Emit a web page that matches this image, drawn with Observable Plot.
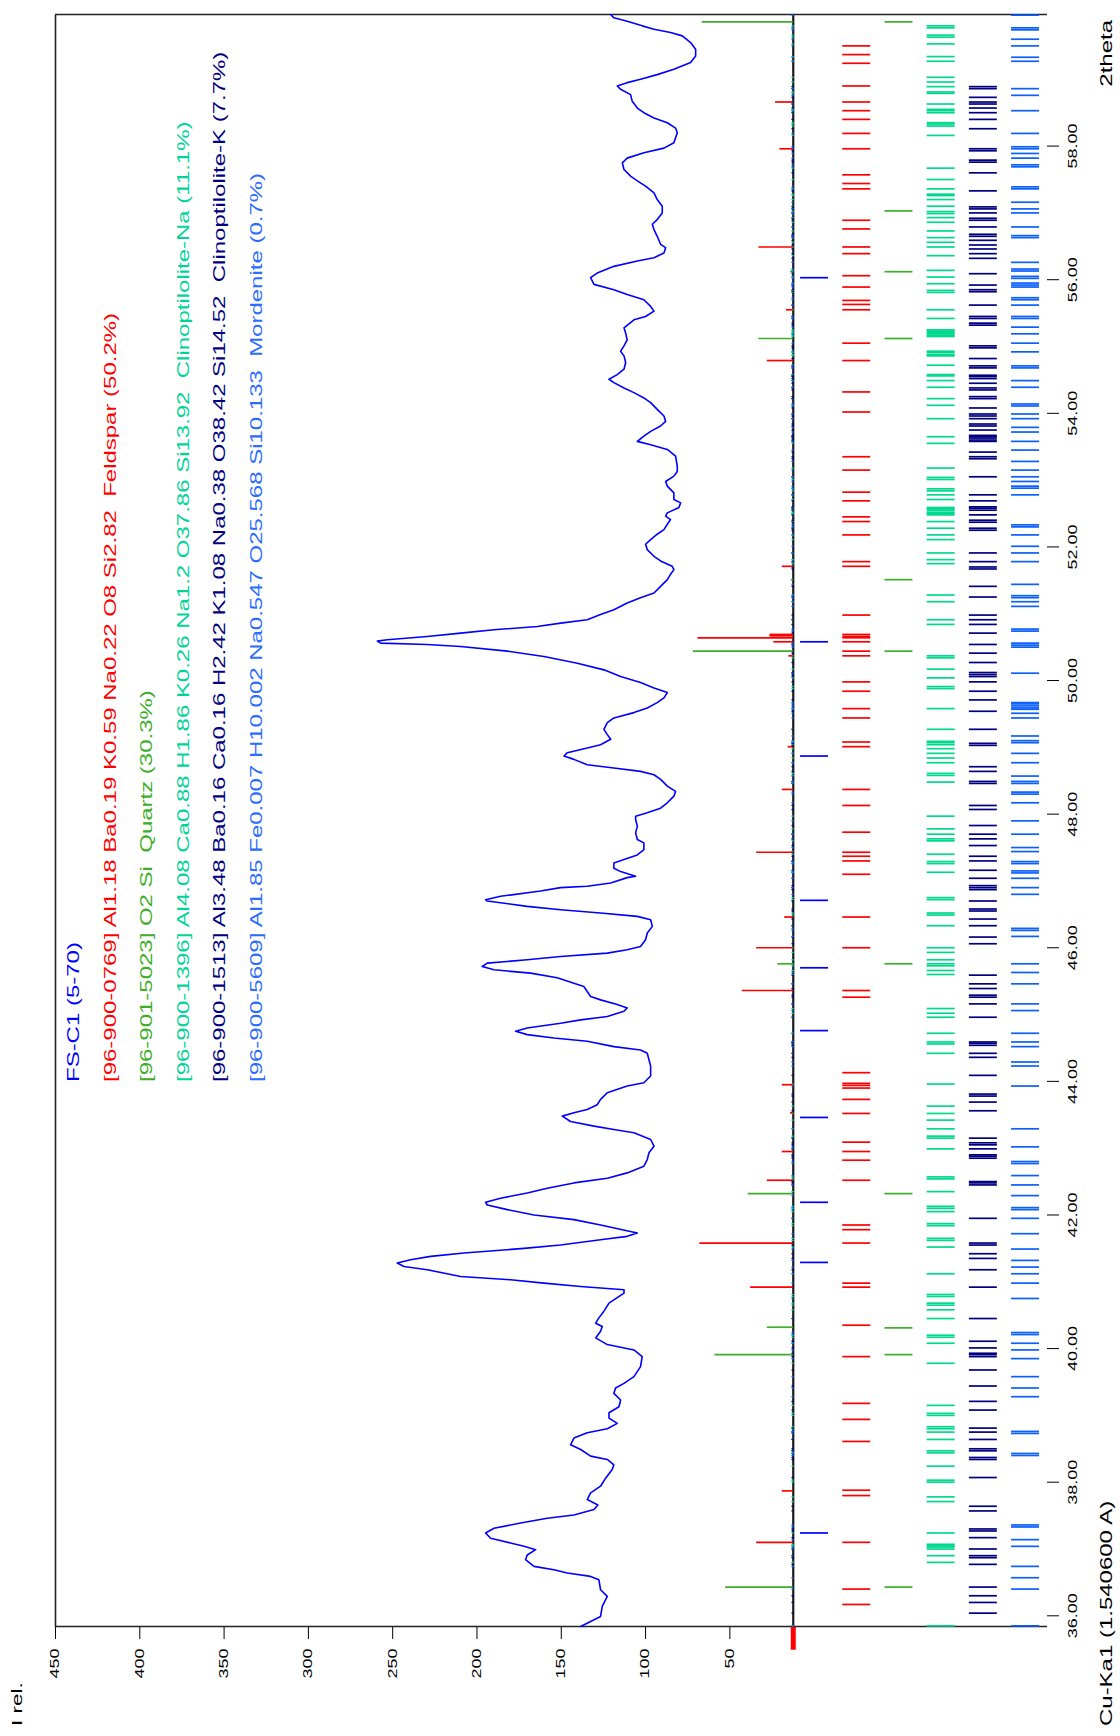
<!DOCTYPE html>
<html><head><meta charset="utf-8">
<script src="https://cdn.jsdelivr.net/npm/d3@7"></script>
<script src="https://cdn.jsdelivr.net/npm/@observablehq/plot@0.6"></script>
<style>
html,body{margin:0;padding:0;background:#fff;overflow:hidden;width:1120px;height:1736px;}
#wrap{position:absolute;left:0;top:0;width:1736px;height:1120px;transform-origin:0 0;transform:translate(0px,1736px) rotate(-90deg);}
svg text{white-space:pre;}
</style></head><body><div id="wrap"></div>
<script>
// ---------- DATA ----------
const patternTheta = [35.84,35.99,36.14,36.29,36.39,36.54,36.59,36.64,36.69,36.74,36.84,36.91,36.99,37.04,37.09,37.16,37.24,37.31,37.39,37.46,37.51,37.59,37.66,37.74,37.84,37.94,38.06,38.19,38.26,38.34,38.39,38.49,38.56,38.66,38.74,38.80,38.88,38.96,39.04,39.13,39.23,39.33,39.41,39.48,39.58,39.73,39.88,39.98,40.06,40.16,40.26,40.33,40.38,40.46,40.56,40.68,40.83,40.88,40.93,40.98,41.03,41.08,41.18,41.23,41.28,41.33,41.38,41.43,41.50,41.55,41.63,41.68,41.73,41.78,
41.85,41.93,42.00,42.08,42.15,42.19,42.25,42.33,42.40,42.48,42.55,42.63,42.73,42.83,42.93,43.03,43.13,43.23,43.28,43.33,43.40,43.48,43.53,43.58,43.65,43.73,43.83,43.93,43.98,44.08,44.23,44.42,44.47,44.52,44.60,44.65,44.70,44.75,44.80,44.87,44.92,44.97,45.05,45.10,45.15,45.22,45.27,45.42,45.47,45.55,45.62,45.67,45.72,45.77,45.82,45.87,45.92,45.97,46.02,46.12,46.22,46.32,46.42,46.47,46.52,46.57,46.62,46.70,46.72,46.77,46.85,46.90,46.92,46.97,47.05,47.07,47.14,47.19,47.27,47.32,47.39,47.47,47.57,47.62,47.72,47.82,47.92,
47.97,48.02,48.09,48.17,48.27,48.34,48.42,48.52,48.59,48.64,48.69,48.74,48.82,48.87,48.92,48.99,49.04,49.12,49.19,49.27,49.37,49.44,49.52,49.59,49.67,49.74,49.82,49.89,49.97,50.06,50.16,50.26,50.36,50.44,50.51,50.54,50.56,50.59,50.61,50.66,50.71,50.76,50.81,50.86,50.91,50.99,51.06,51.16,51.24,51.31,51.41,51.51,51.59,51.66,51.71,51.79,51.86,51.96,52.04,52.11,52.19,52.26,52.34,52.41,52.46,52.51,52.59,52.66,52.71,52.81,52.91,52.98,53.06,53.13,53.21,53.36,53.46,53.53,53.58,53.66,53.73,53.81,53.88,53.96,54.06,
54.16,54.23,54.31,54.38,54.46,54.51,54.58,54.66,54.76,54.86,54.93,55.01,55.10,55.20,55.28,55.40,55.45,55.53,55.60,55.70,55.78,55.85,55.93,56.03,56.10,56.20,56.28,56.33,56.40,56.48,56.53,56.65,56.75,56.83,56.90,57.00,57.10,57.20,57.30,57.40,57.48,57.55,57.65,57.75,57.82,57.90,57.97,58.05,58.20,58.27,58.35,58.42,58.50,58.57,58.67,58.77,58.85,58.90,58.95,59.00,59.07,59.15,59.25,59.35,59.45,59.55,59.65,59.70,59.75,59.80,59.87,59.92,59.97];
const patternI = [138.5,126.7,125.7,122.7,126.7,127.7,132.6,146.4,154.4,166.2,171.2,170.2,165.2,172.1,180.1,191.9,194.9,189.9,174.1,158.3,142.5,130.6,128.3,134.6,132.6,126.7,123.7,119.8,118.8,122.7,132.6,138.5,144.5,142.5,134.6,122.7,116.8,121.7,121.7,115.8,114.8,118.8,117.8,112.8,106.9,103.0,102.0,106.9,122.7,129.6,126.7,125.7,129.6,127.7,124.7,121.7,112.8,112.8,138.5,160.3,180.1,209.7,229.5,243.3,247.3,239.4,227.5,207.7,172.1,150.4,126.7,110.9,104.9,113.8,
126.7,142.5,166.2,182.0,193.9,194.9,186.0,170.2,158.3,142.5,122.7,110.9,101.0,99.0,98.0,95.0,97.0,106.9,118.8,130.6,144.5,149.4,142.5,134.6,128.7,126.7,122.7,110.9,101.0,97.0,97.0,99.0,103.0,118.8,134.6,154.4,170.2,177.1,170.2,150.4,138.5,122.7,112.8,110.9,116.8,126.7,132.6,136.6,142.5,152.4,168.2,189.9,196.9,193.9,170.2,150.4,122.7,110.9,103.0,100.0,99.0,96.0,97.0,104.9,126.7,150.4,170.2,193.9,194.9,186.0,162.3,150.4,134.6,120.7,110.9,105.9,114.8,118.8,118.8,112.8,104.9,101.0,101.0,104.9,105.9,104.9,105.9,
105.9,99.0,91.1,87.1,83.2,82.2,87.1,91.1,95.0,103.0,118.8,134.6,142.5,148.4,146.4,134.6,126.7,120.7,122.7,124.7,122.7,118.8,106.9,99.0,93.1,89.1,87.1,95.0,103.0,114.8,124.7,140.5,160.3,182.0,209.7,229.5,257.2,259.1,253.2,229.5,209.7,189.9,164.2,150.4,134.6,126.7,118.8,110.9,103.0,95.0,91.1,87.1,85.2,83.2,84.2,91.1,95.0,99.0,100.0,97.0,93.1,89.1,87.1,85.2,88.1,87.1,80.2,79.2,83.2,83.2,87.1,88.1,83.2,81.2,81.2,82.2,87.1,97.0,104.9,101.0,97.0,91.1,88.1,89.1,93.1,
97.0,101.0,106.9,112.8,118.8,121.7,116.8,112.8,111.8,112.8,114.8,112.8,110.9,111.8,112.8,106.9,100.0,95.0,97.0,101.0,110.9,118.8,130.6,132.6,128.7,118.8,104.9,95.0,89.1,88.1,91.1,93.1,95.0,96.0,93.1,90.1,90.1,93.1,95.0,100.0,104.9,108.9,112.8,113.8,110.9,101.0,89.1,83.2,81.2,82.2,87.1,95.0,101.0,104.9,107.9,108.9,114.8,116.8,110.9,103.0,93.1,83.2,73.3,70.3,70.3,73.3,78.2,85.2,95.0,102.0,110.9,118.8,120.7];

// reference sticks (position, relative intensity at tip)
const feldsparStickTheta = [58.66,57.96,56.49,55.55,54.79,51.71,50.69,50.67,50.64,50.58,50.37,49.01,48.37,47.43,46.46,46.00,45.36,43.95,43.53,42.95,42.52,41.58,40.92,37.87,37.10];
const feldsparStickI     = [22.9,20.3,32.8,16.4,27.8,18.9,26.2,26.2,68.9,23.9,15.0,15.4,18.9,34.1,17.5,34.1,42.6,18.9,14.0,18.9,27.8,67.8,37.7,18.9,34.1];
const quartzStickTheta = [59.86,56.12,55.12,51.51,50.44,45.76,42.32,40.32,39.91,36.43];
const quartzStickI     = [66.4,14.0,32.8,13.6,71.7,21.5,39.1,27.8,58.9,52.5];

// reflection marker rows
const peakLines = [56.03,50.58,48.87,46.71,45.70,44.76,43.46,42.19,41.29,37.24];
const feldsparLines = [59.50,59.37,59.24,58.90,58.66,58.53,58.40,58.19,57.96,57.57,57.44,57.36,56.89,56.76,56.49,56.39,56.06,55.89,55.69,55.63,55.55,55.05,54.79,54.32,54.02,
53.35,53.15,52.82,52.69,52.45,52.38,52.18,51.78,51.71,50.98,50.69,50.66,50.64,50.58,50.44,50.37,49.98,49.84,49.58,49.44,49.08,49.01,48.37,48.13,
47.73,47.43,47.37,47.30,47.10,46.46,46.00,45.36,45.26,44.13,43.97,43.94,43.90,43.73,43.52,43.09,42.95,42.82,42.52,41.85,41.78,
41.58,40.98,40.92,40.35,39.88,39.18,38.94,38.61,37.88,37.80,37.10,36.40,36.17];
const quartzLines = [59.86,57.03,56.12,55.12,51.51,50.44,45.76,42.32,40.31,39.91,36.43];
const clinoNaLines = [59.80,59.77,59.66,59.63,59.53,59.34,59.27,59.03,58.96,58.89,58.81,58.79,58.63,58.55,58.53,58.50,58.35,58.33,58.30,58.16,57.67,57.50,57.36,57.28,57.26,57.20,57.10,57.02,56.99,56.93,56.86,56.73,56.63,56.56,56.49,56.36,56.14,56.04,55.94,55.84,55.81,55.55,55.42,55.25,55.23,55.21,55.19,55.17,55.15,54.93,54.91,54.88,54.86,54.72,54.58,54.56,54.49,54.39,54.22,54.12,53.92,
53.65,53.55,53.18,53.04,53.01,52.87,52.84,52.78,52.71,52.59,52.57,52.55,52.52,52.50,52.48,52.38,52.28,52.18,52.11,51.91,51.81,51.75,51.28,51.18,50.91,50.84,50.37,50.34,50.17,50.04,49.91,49.88,49.58,49.27,49.09,49.07,49.04,48.98,48.91,48.84,48.77,48.61,48.58,48.48,47.97,47.78,
47.70,47.63,47.60,47.40,47.29,47.26,47.13,46.75,46.72,46.52,46.49,46.33,46.00,45.93,45.82,45.76,45.73,45.66,45.60,45.09,45.02,44.96,44.72,44.59,44.56,44.42,43.96,43.63,43.52,43.42,43.29,43.18,43.15,42.99,42.57,42.54,42.35,42.13,42.10,42.05,41.87,41.84,
41.65,41.62,41.52,41.12,40.81,40.78,40.68,40.65,40.58,40.45,40.20,40.17,40.08,39.78,39.15,39.03,39.00,38.83,38.80,38.75,38.64,38.47,38.44,38.24,38.03,38.00,37.78,37.71,37.24,37.07,37.05,37.03,37.00,36.90,36.80,35.85];
const clinoKLines = [58.89,58.86,58.73,58.66,58.63,58.57,58.50,58.40,58.26,57.96,57.93,57.79,57.76,57.60,57.33,57.09,57.06,57.00,56.92,56.89,56.79,56.68,56.65,56.59,56.52,56.46,56.39,56.32,56.09,55.92,55.85,55.82,55.62,55.45,55.42,55.35,55.32,55.01,54.98,54.82,54.71,54.68,54.57,54.55,54.52,54.45,54.38,54.35,54.25,54.22,54.08,53.99,53.96,
53.92,53.84,53.81,53.75,53.67,53.65,53.63,53.60,53.58,53.42,53.35,53.32,53.05,52.78,52.69,52.60,52.58,52.55,52.48,52.40,52.37,52.28,52.25,51.91,51.78,51.70,51.67,51.41,51.25,50.98,50.91,50.84,50.71,50.54,50.41,50.27,50.12,50.09,50.06,49.98,49.84,49.71,49.54,49.27,49.06,49.03,48.71,48.64,48.49,48.46,48.13,48.07,47.83,
47.70,47.63,47.53,47.37,47.30,47.16,47.04,46.93,46.90,46.87,46.70,46.58,46.55,46.43,46.33,46.16,46.06,45.59,45.46,45.39,45.29,45.26,45.16,44.96,44.59,44.57,44.54,44.42,44.36,44.09,43.81,43.78,43.69,43.56,43.15,43.08,43.05,42.99,42.90,42.88,42.85,42.50,42.48,42.45,41.95,
41.58,41.55,41.42,41.35,41.18,40.92,40.45,40.11,40.01,39.93,39.91,39.88,39.68,39.44,39.21,39.08,38.81,38.75,38.64,38.50,38.47,38.37,38.34,38.07,37.64,37.57,37.30,37.27,37.17,37.00,36.90,36.87,36.77,36.43,36.30,36.20,36.04];
const mordeniteLines = [59.96,59.77,59.74,59.60,59.50,59.33,59.27,58.86,58.76,58.53,58.19,57.99,57.96,57.89,57.82,57.72,57.69,57.39,57.36,57.16,57.06,57.00,56.79,56.66,56.63,56.26,56.16,56.13,56.05,56.02,55.95,55.92,55.89,55.73,55.70,55.62,55.45,55.42,55.29,55.19,55.05,54.92,54.71,54.68,54.49,54.39,54.14,54.11,53.99,
53.92,53.79,53.72,53.58,53.45,53.28,53.15,53.05,52.98,52.91,52.88,52.78,52.33,52.30,52.18,52.01,51.91,51.78,51.44,51.27,51.24,51.18,51.11,50.77,50.74,50.56,50.53,50.50,50.11,49.67,49.65,49.62,49.59,49.57,49.51,49.44,49.17,49.10,49.07,48.91,48.77,48.57,48.49,48.46,48.33,48.30,48.17,47.90,
47.70,47.50,47.44,47.29,47.26,47.15,47.12,47.04,46.90,46.80,46.29,46.26,46.17,45.76,45.63,45.46,45.16,45.06,44.72,44.59,44.52,44.29,44.23,43.93,43.29,43.02,42.80,42.77,42.59,42.45,42.29,42.11,42.08,41.95,41.72,
41.49,41.32,41.22,41.12,40.98,40.75,40.24,40.21,40.08,39.98,39.85,39.58,39.41,39.28,38.76,38.73,38.43,38.40,37.36,37.33,37.14,37.04,36.74,36.57,36.40,35.85];

const xTicks = [36,38,40,42,44,46,48,50,52,54,56,58];
const yTicks = [50,100,150,200,250,300,350,400,450];
const legendLines = [
  "FS-C1 (5-70)",
  "[96-900-0769] Al1.18 Ba0.19 K0.59 Na0.22 O8 Si2.82  Feldspar (50.2%)",
  "[96-901-5023] O2 Si  Quartz (30.3%)",
  "[96-900-1396] Al4.08 Ca0.88 H1.86 K0.26 Na1.2 O37.86 Si13.92  Clinoptilolite-Na (11.1%)",
  "[96-900-1513] Al3.48 Ba0.16 Ca0.16 H2.42 K1.08 Na0.38 O38.42 Si14.52  Clinoptilolite-K (7.7%)",
  "[96-900-5609] Al1.85 Fe0.007 H10.002 Na0.547 O25.568 Si10.133  Mordenite (0.7%)"
];
const xTitle = "2theta";
const yTitle = "I rel.";
const waveTitle = "Cu-Ka1 (1.540600 A)";

// ---------- STYLE / LAYOUT ----------
const C = {pattern:"#0000ff", feldspar:"#ff0000", quartz:"#3cae28", clinoNa:"#00d98c", clinoK:"#000080", mordenite:"#0a5fff"};
const legendColors = [C.pattern, C.feldspar, C.quartz, "#00d49a", C.clinoK, "#2a6cff"];
const W = 1736, H = 1120;
const xDomain = [35.84, 59.97];
const yDomain = [-138.4, 450];
const baseline = 12.4;
const ROW_OFF = 4.33, ROW_GAP = 25.03, ROW_LEN = 16.6;
const SX = 1.5; // horizontal text stretch of the original rendering

const pattern = patternTheta.map((t, i) => ({t, v: patternI[i]}));
const sticks = [
  ...feldsparStickTheta.map((t, i) => ({t, v: feldsparStickI[i], c: C.feldspar})),
  ...quartzStickTheta.map((t, i) => ({t, v: quartzStickI[i], c: C.quartz}))
];
const rows = [
  {lines: peakLines, c: C.pattern},
  {lines: feldsparLines, c: C.feldspar},
  {lines: quartzLines, c: C.quartz},
  {lines: clinoNaLines, c: C.clinoNa},
  {lines: clinoKLines, c: C.clinoK},
  {lines: mordeniteLines, c: C.mordenite}
];
const rowMarks = rows.flatMap((r, k) => r.lines.map(t => ({
  t, c: r.c,
  y1: baseline - ROW_OFF - ROW_GAP * k,
  y2: baseline - ROW_OFF - ROW_GAP * k - ROW_LEN
})));
const tinyMarks = rows.slice(3).flatMap(r => r.lines.map(t => ({t, c: r.c})));

const chart = Plot.plot({
  width: W, height: H,
  marginLeft: 109, marginRight: 15, marginTop: 55, marginBottom: 73,
  style: {fontFamily: "'Liberation Sans', Arial, sans-serif", fontSize: "12px", color: "#000", background: "#fff", overflow: "visible"},
  x: {domain: xDomain, ticks: xTicks, tickFormat: d => d.toFixed(2), tickSize: 12, tickPadding: 9, label: null},
  y: {domain: yDomain, ticks: yTicks, tickSize: 12, tickPadding: 10, label: null},
  color: {type: "identity"},
  marks: [
    Plot.ruleY([yDomain[1]], {stroke: "#222", strokeWidth: 1.6}),
    Plot.ruleX([xDomain[0]], {y1: yDomain[0], y2: yDomain[1], stroke: "#222", strokeWidth: 1.6}),
    Plot.ruleX([xDomain[1]], {y1: yDomain[0], y2: yDomain[1], stroke: "#222", strokeWidth: 1.6}),
    Plot.ruleY([baseline], {stroke: "#1a1a1a", strokeWidth: 2.2}),
    Plot.ruleX(tinyMarks, {x: "t", y1: baseline - 0.6, y2: baseline + 0.8, stroke: "c", strokeWidth: 1.2}),
    Plot.ruleX(sticks, {x: "t", y1: baseline, y2: "v", stroke: "c", strokeWidth: 1.7}),
    Plot.ruleX(rowMarks, {x: "t", y1: "y1", y2: "y2", stroke: "c", strokeWidth: 1.7}),
    Plot.line(pattern, {x: "t", y: "v", stroke: C.pattern, strokeWidth: 1.6}),
    Plot.ruleY([baseline], {x1: 35.5, x2: xDomain[0], stroke: "#ff0000", strokeWidth: 5})
  ]
});
document.getElementById("wrap").appendChild(chart);

const svg = d3.select(chart);
const font = "'Liberation Sans', Arial, sans-serif";
const lg = svg.append("g").attr("font-family", font).attr("font-size", 16).attr("text-anchor", "start");
legendLines.forEach((s, i) => {
  lg.append("text").attr("x", 654).attr("y", 79 + 36.6 * i).attr("fill", legendColors[i]).text(s);
});
const tg = svg.append("g").attr("font-family", font).attr("fill", "#000").attr("text-anchor", "start");
tg.append("text").attr("x", 10).attr("y", 22).attr("font-size", 15).text(yTitle);
tg.append("text").attr("x", 10).attr("y", 1112).attr("font-size", 16).text(waveTitle);
tg.append("text").attr("x", 1716).attr("y", 1112).attr("font-size", 16).attr("text-anchor", "end").text(xTitle);

// stretch every text horizontally about its own anchor point
chart.querySelectorAll("text").forEach(t => {
  const ax = parseFloat(t.getAttribute("x")) || 0;
  const prev = t.getAttribute("transform") || "";
  t.setAttribute("transform", `${prev} translate(${ax},0) scale(${SX},1) translate(${-ax},0)`.trim());
});
</script></body></html>
